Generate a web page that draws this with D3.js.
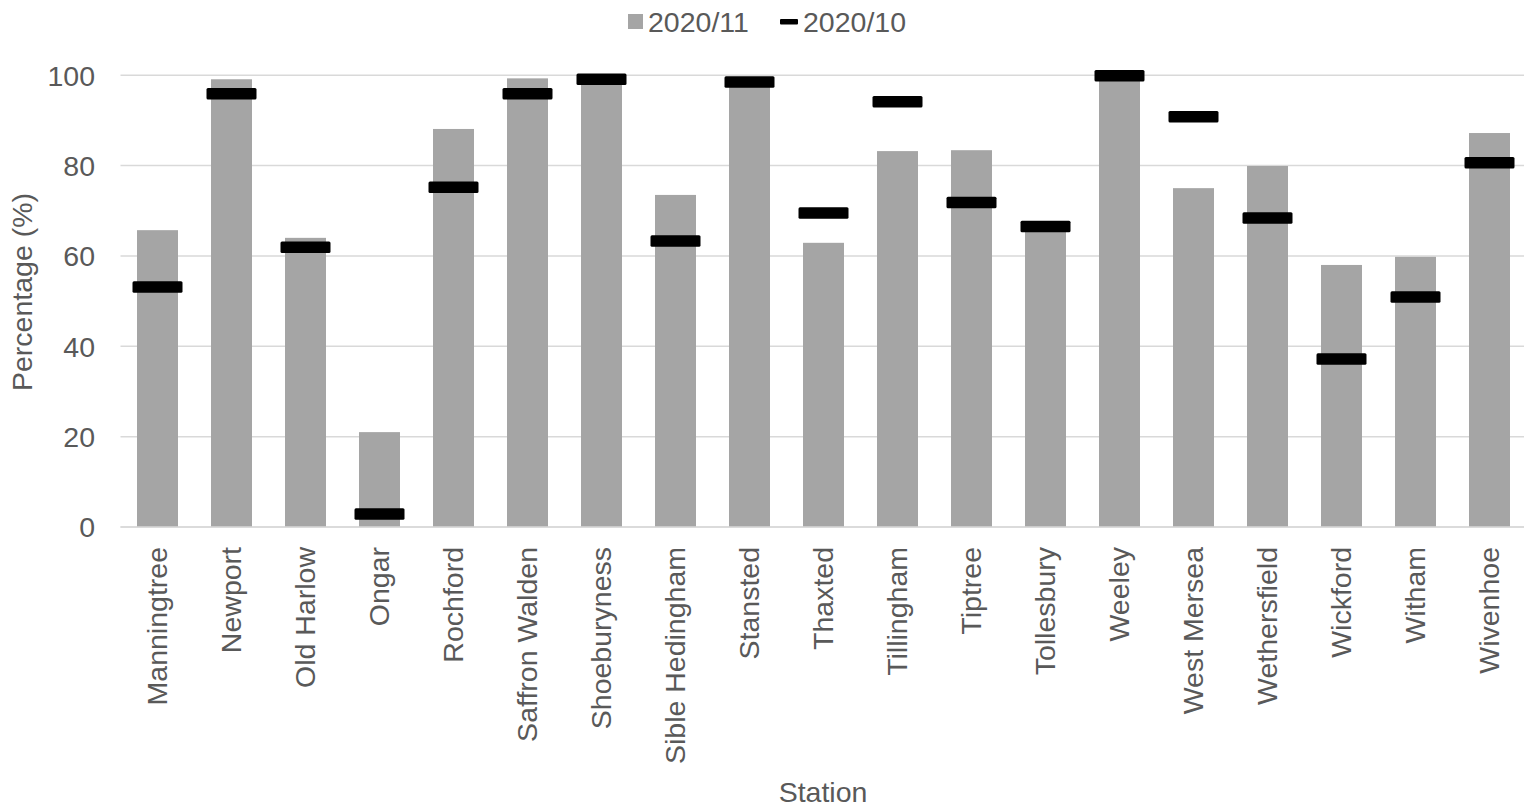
<!DOCTYPE html>
<html>
<head>
<meta charset="utf-8">
<script src="https://cdn.jsdelivr.net/npm/d3@7"></script>
<style>
  html, body { margin: 0; padding: 0; background: #fff; }
  svg { display: block; font-family: "Liberation Sans", Arial, sans-serif; }
</style>
</head>
<body>
<svg id="chart" width="1524" height="810"></svg>
<script>
// Station names along the x axis
const stations = ["Manningtree", "Newport", "Old Harlow", "Ongar", "Rochford", "Saffron Walden",
  "Shoeburyness", "Sible Hedingham", "Stansted", "Thaxted", "Tillingham", "Tiptree",
  "Tollesbury", "Weeley", "West Mersea", "Wethersfield", "Wickford", "Witham", "Wivenhoe"];

// Percentage for November 2020 (bars)
const nov2020 = [65.7, 99.1, 64.0, 21.0, 88.1, 99.3, 99.6, 73.5, 99.0, 62.9, 83.2, 83.4,
  66.0, 99.9, 75.0, 79.9, 58.0, 59.8, 87.2];

// Percentage for October 2020 (dash markers)
const oct2020 = [53.1, 95.9, 61.9, 2.9, 75.2, 95.9, 99.1, 63.3, 98.5, 69.5, 94.1, 71.8,
  66.5, 99.9, 90.8, 68.4, 37.2, 50.9, 80.6];

const yTicks = [0, 20, 40, 60, 80, 100];
const seriesNames = ["2020/11", "2020/10"];

const textColor = "#595959";
const barColor = "#a5a5a5";
const gridColor = "#d9d9d9";
const fontSize = 28.5;

const svg = d3.select("#chart");
const W = 1524;

const x = d3.scaleBand().domain(stations).range([120.5, 1526.5]).paddingInner(0.446).paddingOuter(0.223);
const y = d3.scaleLinear().domain([0, 100]).range([527, 75.2]);

// Horizontal gridlines
svg.append("g")
  .selectAll("line")
  .data(yTicks)
  .join("line")
  .attr("x1", 120.5).attr("x2", W)
  .attr("y1", d => y(d)).attr("y2", d => y(d))
  .attr("stroke", gridColor).attr("stroke-width", 1.5);

// Y axis tick labels
const yAxis = d3.axisLeft(y).tickValues(yTicks).tickSize(0).tickPadding(0).tickFormat(d3.format("d"));
svg.append("g")
  .attr("transform", "translate(95,0)")
  .call(yAxis)
  .call(g => g.select(".domain").remove())
  .call(g => g.selectAll("text")
    .attr("fill", textColor)
    .attr("font-size", fontSize)
    .attr("font-family", "Liberation Sans, Arial, sans-serif")
    .attr("dy", "0.35em"));

// Bars for 2020/11
svg.append("g")
  .selectAll("rect")
  .data(stations)
  .join("rect")
  .attr("x", d => x(d))
  .attr("width", x.bandwidth())
  .attr("y", (d, i) => y(nov2020[i]))
  .attr("height", (d, i) => y(0) - y(nov2020[i]))
  .attr("fill", barColor);

// Baseline
svg.append("line")
  .attr("x1", 120.5).attr("x2", W)
  .attr("y1", y(0)).attr("y2", y(0))
  .attr("stroke", gridColor).attr("stroke-width", 1.5);

// Dash markers for 2020/10
const markW = 50, markH = 11.5;
svg.append("g")
  .selectAll("rect")
  .data(stations)
  .join("rect")
  .attr("x", d => x(d) + x.bandwidth() / 2 - markW / 2)
  .attr("y", (d, i) => y(oct2020[i]) - markH / 2)
  .attr("width", markW)
  .attr("height", markH)
  .attr("rx", 1.5)
  .attr("fill", "#000");

// X axis category labels (rotated)
const xAxis = d3.axisBottom(x).tickSize(0).tickPadding(0);
svg.append("g")
  .attr("transform", `translate(0,${y(0)})`)
  .call(xAxis)
  .call(g => g.select(".domain").remove())
  .call(g => g.selectAll("text")
    .attr("fill", textColor)
    .attr("font-size", fontSize)
    .attr("font-family", "Liberation Sans, Arial, sans-serif")
    .attr("text-anchor", "end")
    .attr("transform", "rotate(-90)")
    .attr("x", -20)
    .attr("y", 0)
    .attr("dy", "0.35em"));

// Axis titles
svg.append("text")
  .attr("x", 823).attr("y", 802)
  .attr("text-anchor", "middle")
  .attr("fill", textColor)
  .attr("font-size", fontSize)
  .text("Station");

svg.append("text")
  .attr("transform", "translate(32,292) rotate(-90)")
  .attr("text-anchor", "middle")
  .attr("fill", textColor)
  .attr("font-size", fontSize)
  .text("Percentage (%)");

// Legend
const legend = svg.append("g");
legend.append("rect")
  .attr("x", 628).attr("y", 14).attr("width", 15).attr("height", 15)
  .attr("fill", barColor);
legend.append("text")
  .attr("x", 648).attr("y", 31.5)
  .attr("fill", textColor).attr("font-size", fontSize)
  .text(seriesNames[0]);
legend.append("rect")
  .attr("x", 780).attr("y", 19).attr("width", 18).attr("height", 5.5)
  .attr("rx", 1)
  .attr("fill", "#000");
legend.append("text")
  .attr("x", 803).attr("y", 31.5)
  .attr("fill", textColor).attr("font-size", fontSize)
  .text(seriesNames[1]);
</script>
</body>
</html>
